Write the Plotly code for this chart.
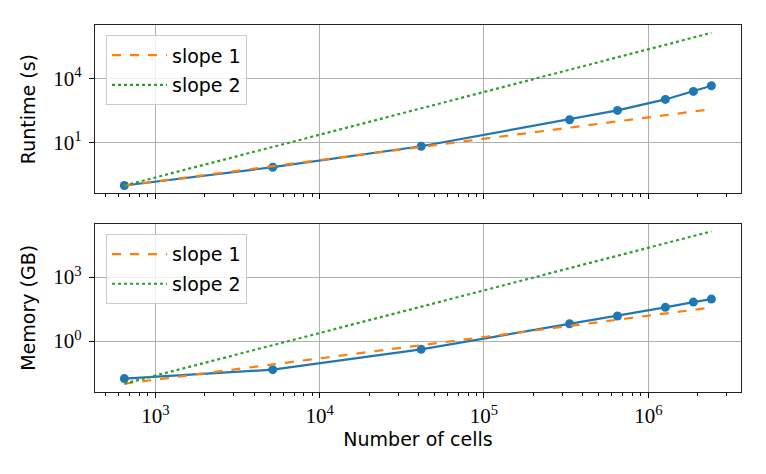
import plotly.graph_objects as go
from plotly.subplots import make_subplots

# ---- data ----
cells = [648, 5184, 41472, 331776, 649000, 1270000, 1880000, 2420000]
runtime_s = [0.1, 0.72, 6.9, 120, 327, 1070, 2540, 4680]
memory_gb = [0.0173, 0.0455, 0.408, 6.5, 14.9, 38, 67, 93]
runtime_ref = 0.1      # start value of the reference slope lines (top)
memory_ref = 0.01      # start value of the reference slope lines (bottom)
slopes = [1, 2]
slope_labels = ["slope 1", "slope 2"]

x_ticks = [1e3, 1e4, 1e5, 1e6]
x_ticktext = ["10<sup>3</sup>", "10<sup>4</sup>", "10<sup>5</sup>", "10<sup>6</sup>"]
rt_ticks = [10, 1e4]
rt_ticktext = ["10<sup>1</sup>", "10<sup>4</sup>"]
mem_ticks = [1, 1e3]
mem_ticktext = ["10<sup>0</sup>", "10<sup>3</sup>"]

BLUE = "#1f77b4"
ORANGE = "#ff7f0e"
GREEN = "#2ca02c"
slope_colors = [ORANGE, GREEN]
slope_dash = ["dash", "dot"]

fig = make_subplots(rows=2, cols=1, shared_xaxes=True, vertical_spacing=0.083)

xs = [cells[0], cells[-1]]
for row, (vals, ref, leg) in enumerate(
        [(runtime_s, runtime_ref, "legend"), (memory_gb, memory_ref, "legend2")], start=1):
    fig.add_trace(go.Scatter(x=cells, y=vals, mode="lines+markers",
                             line=dict(color=BLUE, width=2.2),
                             marker=dict(color=BLUE, size=9),
                             showlegend=False), row=row, col=1)
    for k, lab, col, dsh in zip(slopes, slope_labels, slope_colors, slope_dash):
        ys = [ref * (x / cells[0]) ** k for x in xs]
        fig.add_trace(go.Scatter(x=xs, y=ys, mode="lines", name=lab,
                                 line=dict(color=col, width=2.2, dash=dsh),
                                 legend=leg, legendgroup=f"{leg}{k}"), row=row, col=1)

minor_x = [m * 10 ** e for e in range(2, 7) for m in range(2, 10)]
tickfont = dict(family="Liberation Serif", size=21, color="black")
textfont = dict(family="DejaVu Sans", size=19, color="black")
axis_common = dict(type="log", showline=True, linecolor="#222222", linewidth=1.3,
                   mirror=True, gridcolor="#b0b0b0", gridwidth=1, zeroline=False,
                   ticks="outside", ticklen=5, tickwidth=1, tickcolor="black",
                   tickfont=tickfont)

fig.update_xaxes(**axis_common, range=[2.633, 6.564], tickvals=x_ticks, ticktext=x_ticktext,
                 minor=dict(tickvals=minor_x, ticks="outside", ticklen=3, tickwidth=1,
                            tickcolor="black", showgrid=False))
fig.update_xaxes(title=dict(text="Number of cells", font=textfont, standoff=4), row=2, col=1)
fig.update_yaxes(**axis_common, ticklabelstandoff=3)
fig.update_yaxes(range=[-1.363, 6.513], tickvals=rt_ticks, ticktext=rt_ticktext,
                 title=dict(text="Runtime (s)", font=textfont, standoff=12), row=1, col=1)
fig.update_yaxes(range=[-2.39, 5.503], tickvals=mem_ticks, ticktext=mem_ticktext,
                 title=dict(text="Memory (GB)", font=textfont, standoff=12), row=2, col=1)

legend_style = dict(x=0.017, xanchor="left", yanchor="top",
                    bgcolor="rgba(255,255,255,0.8)", bordercolor="#cccccc", borderwidth=1,
                    font=textfont, itemwidth=55,
                    traceorder="grouped", tracegroupgap=2)
# the page body has an 8px margin, so the margins below are offset by 8px
fig.update_layout(
    width=766, height=474,
    margin=dict(l=87, r=33, t=17, b=90),
    plot_bgcolor="white", paper_bgcolor="white",
    legend=dict(y=0.972, **legend_style),
    legend2=dict(y=0.43, **legend_style),
)

fig.write_html("out.html")
